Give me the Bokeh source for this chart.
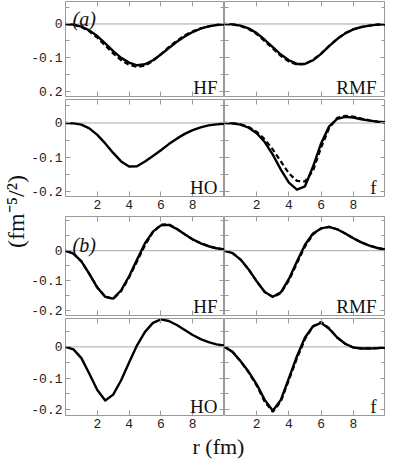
import math
from bokeh.plotting import figure
from bokeh.layouts import row, column
from bokeh.models import Range1d, LinearAxis, FixedTicker, Span, Label
from bokeh.embed import file_html
from bokeh.resources import INLINE

# ---------------- data ----------------
r = [0, 0.5, 1, 1.5, 2, 2.5, 3, 3.5, 4, 4.5, 5, 5.5, 6, 6.5, 7, 7.5, 8, 8.5, 9, 9.5, 10]

a_hf_solid = [0, -0.002, -0.008, -0.019, -0.036, -0.058, -0.081, -0.101, -0.115, -0.123, -0.120, -0.108, -0.091, -0.072, -0.053, -0.037, -0.024, -0.014, -0.007, -0.003, -0.001]
a_hf_dashed = [0, -0.002, -0.009, -0.022, -0.041, -0.064, -0.088, -0.108, -0.122, -0.128, -0.124, -0.110, -0.090, -0.069, -0.050, -0.034, -0.022, -0.013, -0.007, -0.003, -0.001]
a_rmf_solid = [0, -0.001, -0.005, -0.013, -0.027, -0.047, -0.069, -0.091, -0.108, -0.119, -0.119, -0.108, -0.089, -0.066, -0.045, -0.028, -0.016, -0.009, -0.005, -0.002, -0.001]
a_rmf_dashed = [0, -0.001, -0.006, -0.015, -0.030, -0.051, -0.073, -0.095, -0.112, -0.121, -0.119, -0.107, -0.088, -0.065, -0.044, -0.027, -0.016, -0.009, -0.005, -0.002, -0.001]
a_ho_solid = [0, -0.001, -0.005, -0.016, -0.035, -0.060, -0.088, -0.113, -0.128, -0.127, -0.113, -0.097, -0.080, -0.062, -0.046, -0.032, -0.021, -0.013, -0.007, -0.004, -0.002]
a_f_solid = [0, -0.001, -0.005, -0.014, -0.030, -0.056, -0.093, -0.137, -0.175, -0.196, -0.186, -0.128, -0.060, -0.010, 0.012, 0.018, 0.016, 0.011, 0.007, 0.004, 0.002]
a_f_dashed = [0, -0.001, -0.004, -0.012, -0.026, -0.048, -0.078, -0.113, -0.148, -0.170, -0.172, -0.140, -0.072, -0.015, 0.015, 0.021, 0.019, 0.013, 0.008, 0.004, 0.002]

b_hf_solid = [0, -0.010, -0.036, -0.078, -0.124, -0.155, -0.161, -0.133, -0.086, -0.030, 0.025, 0.064, 0.085, 0.087, 0.073, 0.055, 0.038, 0.025, 0.015, 0.008, 0.004]
b_hf_dashed = [0, -0.010, -0.036, -0.078, -0.124, -0.155, -0.162, -0.136, -0.090, -0.036, 0.018, 0.062, 0.088, 0.089, 0.074, 0.055, 0.038, 0.025, 0.015, 0.008, 0.004]
b_rmf_solid = [0, -0.008, -0.030, -0.063, -0.103, -0.139, -0.155, -0.140, -0.095, -0.036, 0.020, 0.058, 0.075, 0.080, 0.072, 0.058, 0.042, 0.028, 0.017, 0.009, 0.004]
b_rmf_dashed = [0, -0.008, -0.030, -0.063, -0.103, -0.139, -0.156, -0.143, -0.100, -0.042, 0.014, 0.055, 0.075, 0.080, 0.072, 0.058, 0.042, 0.028, 0.017, 0.009, 0.004]
b_ho_solid = [0, -0.008, -0.036, -0.086, -0.138, -0.172, -0.153, -0.107, -0.050, 0.005, 0.048, 0.077, 0.088, 0.083, 0.070, 0.054, 0.038, 0.025, 0.015, 0.008, 0.004]
b_f_solid = [0, -0.016, -0.046, -0.080, -0.120, -0.170, -0.205, -0.170, -0.100, -0.030, 0.030, 0.066, 0.077, 0.058, 0.030, 0.010, -0.002, -0.005, -0.005, -0.004, -0.002]
b_f_dashed = [0, -0.016, -0.046, -0.082, -0.124, -0.176, -0.208, -0.175, -0.106, -0.037, 0.025, 0.066, 0.080, 0.060, 0.030, 0.010, -0.002, -0.005, -0.005, -0.004, -0.002]

panel_names = ["HF", "RMF", "HO", "f"]
group_tags = ["(a)", "(b)"]

x_ticks = [2, 4, 6, 8]
x_tick_labels = ["2", "4", "6", "8"]
y_ticks = [-0.2, -0.1, 0]
y_tick_labels = ["-0.2", "-0.1", "0"]
y_tick_labels_top = ["0.2", "-0.1", "0"]
y_minor_a = [-0.15, -0.05, 0.05]
y_minor_b = [-0.15, -0.05, 0.05, 0.1]

y_label = "(fm\u207b\u2075/\u00b2)"
x_label = "r (fm)"

# ---------------- style / layout ----------------
GRAY = "#9a9a9a"
ZERO = "#a8a8a8"
TICK_FONT = "Liberation Mono"
SERIF = "Liberation Serif"

Y_W = 28      # width of the y-label strip
B_L = 35      # left border for tick labels
FW = 161      # frame width of each panel


def make_panel(solid, dashed, yr, minor, frame_h, left_col, bt, bb,
               show_x, ylabels, name, tag=None, tag_dy=17):
    bl = B_L if left_col else 0
    p = figure(width=FW + bl, height=frame_h + bt + bb,
               x_range=Range1d(0, 10), y_range=Range1d(*yr),
               x_axis_type=None, y_axis_type=None,
               toolbar_location=None, output_backend="svg",
               min_border_left=bl, min_border_right=0,
               min_border_top=bt, min_border_bottom=bb)
    p.outline_line_color = GRAY
    p.outline_line_width = 1
    p.background_fill_color = "white"
    p.border_fill_color = "white"

    def style(ax, show, overrides):
        ax.axis_line_color = None
        ax.major_tick_in = 5
        ax.major_tick_out = 0
        ax.minor_tick_in = 4
        ax.minor_tick_out = 0
        ax.major_tick_line_color = GRAY
        ax.minor_tick_line_color = GRAY
        if show:
            ax.major_label_text_font = TICK_FONT
            ax.major_label_text_font_size = "13px"
            ax.major_label_text_color = "#222222"
            ax.major_label_standoff = 3
            ax.major_label_overrides = overrides
        else:
            ax.major_label_text_font_size = "0px"
            ax.major_label_standoff = 0
            ax.major_label_overrides = {t: "" for t in overrides}

    yover = dict(zip(y_ticks, ylabels))
    xover = dict(zip(x_ticks, x_tick_labels))
    for loc in ["left", "right"]:
        ax = LinearAxis(ticker=FixedTicker(ticks=y_ticks, minor_ticks=minor))
        style(ax, left_col and loc == "left", yover)
        p.add_layout(ax, loc)
    for loc in ["below", "above"]:
        ax = LinearAxis(ticker=FixedTicker(ticks=x_ticks, minor_ticks=[]))
        style(ax, show_x and loc == "below", xover)
        p.add_layout(ax, loc)

    p.add_layout(Span(location=0, dimension="width", line_color=ZERO,
                      line_width=1, level="underlay"))
    if dashed is not None:
        p.line(r, dashed, line_color="black", line_width=2.2, line_dash="5 3")
    p.line(r, solid, line_color="black", line_width=2.4, line_join="round")

    p.add_layout(Label(x=FW - 9, y=9, x_units="screen", y_units="screen",
                       text=name, text_font=SERIF, text_font_size="19px",
                       text_align="right", text_baseline="alphabetic",
                       text_color="#111111"))
    if tag is not None:
        p.add_layout(Label(x=7, y=frame_h - tag_dy, x_units="screen", y_units="screen",
                           text=tag, text_font=SERIF, text_font_size="20px",
                           text_font_style="italic", text_align="left",
                           text_baseline="alphabetic", text_color="#111111"))
    return p


ra = (-0.216, 0.067)
ra2 = (-0.216, 0.069)
rb = (-0.218, 0.115)
rb2 = (-0.220, 0.091)

# frame heights and borders (top, bottom)
a1L = make_panel(a_hf_solid, a_hf_dashed, ra, y_minor_a, 95, True, 1, 3, False, y_tick_labels_top, panel_names[0], group_tags[0], 17)
a1R = make_panel(a_rmf_solid, a_rmf_dashed, ra, y_minor_a, 95, False, 1, 3, False, y_tick_labels, panel_names[1])
a2L = make_panel(a_ho_solid, None, ra2, y_minor_a, 97, True, 0, 18, True, y_tick_labels, panel_names[2])
a2R = make_panel(a_f_solid, a_f_dashed, ra2, y_minor_a, 97, False, 0, 18, True, y_tick_labels, panel_names[3])
b1L = make_panel(b_hf_solid, b_hf_dashed, rb, y_minor_b, 99, True, 2, 3, False, y_tick_labels, panel_names[0], group_tags[1], 28)
b1R = make_panel(b_rmf_solid, b_rmf_dashed, rb, y_minor_b, 99, False, 2, 3, False, y_tick_labels, panel_names[1])
b2L = make_panel(b_ho_solid, None, rb2, y_minor_b, 97, True, 0, 18, True, y_tick_labels, panel_names[2])
b2R = make_panel(b_f_solid, b_f_dashed, rb2, y_minor_b, 97, False, 0, 18, True, y_tick_labels, panel_names[3])

H_X = 26
TOTAL_H = (95 + 4) + (97 + 18) + (99 + 5) + (97 + 18) + H_X


def label_axis(text, size):
    ax = LinearAxis(ticker=FixedTicker(ticks=[]), axis_label=text)
    ax.axis_line_color = None
    ax.major_tick_out = 0
    ax.major_tick_in = 0
    ax.major_label_text_font_size = "0px"
    ax.major_label_standoff = 0
    ax.axis_label_standoff = 0
    ax.axis_label_text_font = SERIF
    ax.axis_label_text_font_size = size
    ax.axis_label_text_font_style = "normal"
    ax.axis_label_text_color = "#111111"
    return ax


# x label strip: an axis whose only content is its label
XW = FW * 2 + B_L
xfig = figure(width=XW, height=H_X, x_range=Range1d(0, 1), y_range=Range1d(0, 1),
              x_axis_type=None, y_axis_type=None, toolbar_location=None,
              output_backend="svg", min_border=0, min_border_left=23)
xfig.outline_line_color = None
xfig.add_layout(label_axis(x_label, "22px"), "below")

# y label strip: an axis whose only content is the rotated label
yfig = figure(width=Y_W, height=TOTAL_H, x_range=Range1d(0, 1), y_range=Range1d(0, 1),
              x_axis_type=None, y_axis_type=None, toolbar_location=None,
              output_backend="svg", min_border=0, min_border_bottom=37)
yfig.outline_line_color = None
yfig.add_layout(label_axis(y_label, "24px"), "left")

grid = column(row(a1L, a1R), row(a2L, a2R), row(b1L, b1R), row(b2L, b2R), xfig)
layout = row(yfig, grid)

open("out.html", "w").write(file_html(layout, INLINE))
